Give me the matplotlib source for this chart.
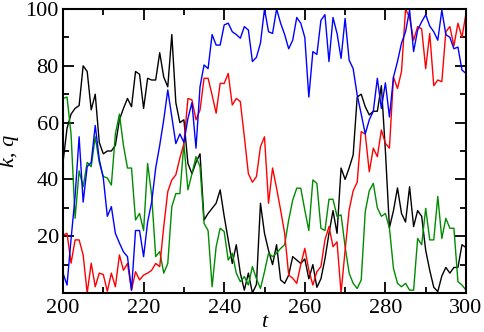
import numpy as np
import matplotlib
matplotlib.use("Agg")
import matplotlib.pyplot as plt
from matplotlib.ticker import MultipleLocator

t = list(range(200, 301))

black = [46, 58, 63, 65, 66, 80, 78, 64.5, 70, 53,
         49, 50, 50, 52, 61, 65, 68.5, 65.6, 78, 77,
         65, 75.6, 75, 75, 84.6, 76, 72.6, 91, 67, 60,
         61, 45.6, 42, 46, 49, 25.7, 28, 29.8, 31.6, 36.3,
         27, 18.7, 10.4, 17, 7, 1, 7, 0, 3, 31.6,
         21, 15, 10, 17, 4.6, 3.4, 6.3, 12.8, 11.6, 10.4,
         12, 5, 10, 2, 5, 12, 21, 29, 21, 44,
         40, 44, 48.6, 69, 70, 65.6, 62.7, 64, 64, 73,
         50, 23, 29, 37, 28, 25, 37.4, 23.4, 29, 27,
         15, 8, 2, 0.5, 6, 9, 7, 9, 9, 17,
         16]

blue = [7, 2.8, 19, 34, 55, 32, 44.5, 46, 59, 47,
        40.5, 27, 30.4, 21, 17.6, 14.5, 12.8, 1, 22, 22,
        12.8, 25, 32, 44, 52, 61, 71.5, 62, 52.6, 56,
        53, 61.5, 67, 51, 72.6, 80.3, 79, 91, 87.3, 87.3,
        94.4, 95, 92, 91, 89.7, 93.8, 92.6, 81.5, 83, 88,
        100, 92, 91.4, 100, 95, 91, 86, 89, 97, 95,
        90, 69, 85, 84, 96, 98, 81.5, 97, 91.4, 82.6,
        96.7, 82, 79, 69.7, 63, 56, 61, 64, 75.6, 65,
        74, 62, 76, 81.5, 88, 92, 99.6, 85, 92.6, 95.5,
        98, 94, 92, 89, 99.6, 91, 90, 86, 86.6, 78.5,
        77.3]

red = [20.4, 21, 10.5, 18.7, 18.7, 13.4, 0, 10.5, 2.2, 7,
       6.5, 0.6, 7, 2.2, 13.4, 8, 10.4, 1, 7.5, 4.6,
       6.3, 7, 8, 10.4, 9.3, 23.4, 35.7, 39.8, 41.6, 47.5,
       52.6, 68.5, 68, 61, 64.4, 75.6, 75.6, 69.7, 63.3, 73.8,
       73.8, 77.3, 66.2, 68.5, 67.4, 55, 42, 39, 41, 51.5,
       55, 31.6, 44, 36.9, 29.2, 21, 6.3, 5.2, 3.4, 10,
       15.7, 8, 2.8, 7.5, 9.3, 18.7, 23.4, 16.3, 18, 0,
       15, 29.2, 36, 39, 56.8, 56, 42.7, 51, 48, 57.4,
       52.7, 51, 76, 72, 78, 100, 97, 89, 93.8, 93,
       79, 91.4, 73, 75, 74.4, 92, 93.8, 87, 95, 90,
       98.5]

green = [68.5, 69, 56, 26.3, 43, 37.4, 46, 44.5, 55, 46,
         41, 40.5, 38, 56, 63, 52, 44, 44, 25.7, 28,
         22, 45.6, 34.5, 12.8, 14.6, 7, 10.4, 30.4, 35, 35,
         52.6, 36.3, 42, 48, 44.5, 24.5, 22, 2.2, 16.3, 22.8,
         21.6, 11.6, 14, 7, 4, 5.8, 2.8, 9.3, 5, 1.6,
         7.5, 14, 12.8, 14, 15.7, 17, 25.7, 32.7, 36.9, 36.9,
         29.2, 22, 39.8, 38.6, 22.8, 22, 33, 33, 27, 27.5,
         16.3, 7, 3.4, 1.6, 4.6, 28.6, 36, 38.6, 30, 27,
         28, 22.8, 8.7, 3.4, 2.2, 3.4, 1, 1, 19.2, 17,
         29.8, 18.7, 18.7, 34, 19.2, 26.3, 22.8, 22.8, 4, 2.8,
         1]

yticks = [20, 40, 60, 80, 100]
xticks = [200, 220, 240, 260, 280, 300]

plt.rcParams['font.family'] = ['Liberation Serif', 'DejaVu Serif']

fig = plt.figure(figsize=(4.85, 3.32), dpi=100)
ax = fig.add_axes([63/485, 39/332, 403/485, 284/332])

lw = 1.0
ax.plot(t, black, color='black', lw=lw)
ax.plot(t, green, color='#008c00', lw=lw)
ax.plot(t, red, color='#ff0000', lw=lw)
ax.plot(t, blue, color='#0000ff', lw=lw)

ax.set_xlim(200, 300)
ax.set_ylim(0, 100)
ax.set_xticks(xticks)
ax.set_yticks(yticks)
ax.xaxis.set_minor_locator(MultipleLocator(10))
ax.yaxis.set_minor_locator(MultipleLocator(10))
ax.tick_params(which='both', direction='in', top=True, right=True, width=1.3)
ax.tick_params(which='major', length=8, labelsize=16, pad=4)
ax.tick_params(which='minor', length=4.5)
ax.tick_params(axis='y', which='major', pad=3)
for s in ax.spines.values():
    s.set_linewidth(1.5)

ax.set_xlabel('t', fontsize=16, fontstyle='italic', labelpad=-3)
ax.set_ylabel('k, q', fontsize=16, fontstyle='italic', labelpad=5)

fig.savefig('out.png', dpi=100)
